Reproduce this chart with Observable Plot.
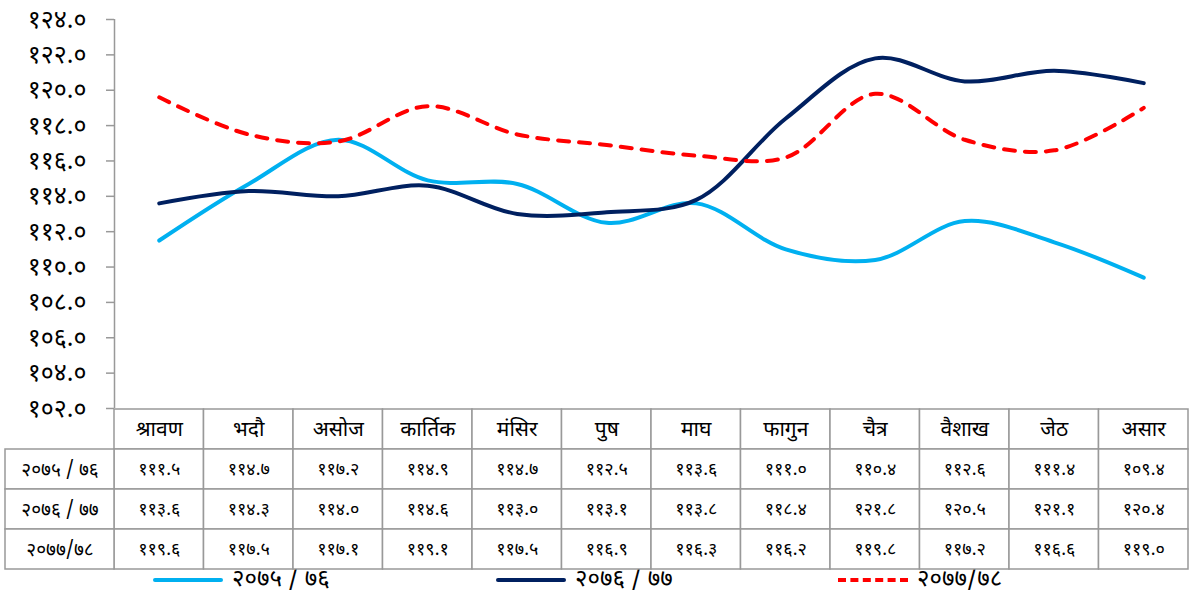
<!DOCTYPE html>
<html>
<head>
<meta charset="utf-8">
<script src="https://cdn.jsdelivr.net/npm/d3@7"></script>
<script src="https://cdn.jsdelivr.net/npm/@observablehq/plot@0.6"></script>
<style>
  html, body { margin: 0; padding: 0; background: #fff; }
  body { width: 1191px; height: 594px; position: relative; overflow: hidden; font-family: "Kalimati", "Mangal", "Noto Sans Devanagari", "Lohit Devanagari", "Noto Sans", sans-serif; }
  #chart, #table, #legend { position: absolute; left: 0; }
  #chart { top: 0; }
  #table { top: 400px; }
  #legend { top: 566px; width: 1191px; height: 28px; }
  .lg { position: absolute; top: 0; height: 28px; display: flex; align-items: center; font-size: 24px; color: #000; font-weight: normal; }
  .sw { display: inline-block; width: 70px; height: 0; margin-right: 9px; }
  svg.plot-svg { background: transparent !important; overflow: visible; }
  svg.plot-svg text { font-weight: normal; }
  #chart [aria-label="y-axis"] line, #chart [aria-label="y-axis tick"] path, #chart [aria-label="y-axis"] path { stroke: #999; stroke-width: 1.5px; }
</style>
</head>
<body>
<div id="legend"></div>
<div id="chart"></div>
<div id="table"></div>
<script>
// ---- data ----
const months = ["श्रावण", "भदौ", "असोज", "कार्तिक", "मंसिर", "पुष", "माघ", "फागुन", "चैत्र", "वैशाख", "जेठ", "असार"];
const seriesNames = ["२०७५ / ७६", "२०७६ / ७७", "२०७७/७८"];
const values2075 = [111.5, 114.7, 117.2, 114.9, 114.7, 112.5, 113.6, 111.0, 110.4, 112.6, 111.4, 109.4];
const values2076 = [113.6, 114.3, 114.0, 114.6, 113.0, 113.1, 113.8, 118.4, 121.8, 120.5, 121.1, 120.4];
const values2077 = [119.6, 117.5, 117.1, 119.1, 117.5, 116.9, 116.3, 116.2, 119.8, 117.2, 116.6, 119.0];
const yTicks = [102, 104, 106, 108, 110, 112, 114, 116, 118, 120, 122, 124];
const colors = ["#00B0F0", "#002060", "#FF0000"];

// ---- helpers ----
const devDigits = "०१२३४५६७८९";
const dev = s => String(s).replace(/[0-9]/g, d => devDigits[+d]);
const fmt1 = v => dev(v.toFixed(1));
const FONT = "Kalimati, Mangal, 'Noto Sans Devanagari', 'Lohit Devanagari', 'Noto Sans', sans-serif";

const allSeries = [values2075, values2076, values2077];
const rows = [];
allSeries.forEach((vals, s) => vals.forEach((v, i) => rows.push({series: seriesNames[s], i, month: months[i], value: v})));

const W = 1191;
const plotLeft = 114, plotRight = 1188;
const colW = (plotRight - plotLeft) / months.length;
const labelColLeft = 5;
const labelX1 = -(plotLeft - labelColLeft) / colW;

// ---- chart ----
const chart = Plot.plot({
  width: W, height: 420,
  marginLeft: plotLeft, marginRight: W - plotRight, marginTop: 19, marginBottom: 12,
  style: {background: "transparent", overflow: "visible", fontFamily: FONT},
  x: {domain: [0, months.length], axis: null},
  y: {domain: [102, 124], ticks: yTicks, tickFormat: fmt1, tickSize: 8, tickPadding: 20, label: null},
  color: {domain: seriesNames, range: colors},
  marks: [
    Plot.ruleX([0], {stroke: "#999", strokeWidth: 1.5}),
    Plot.line(rows.filter(d => d.series !== seriesNames[2]), {
      x: d => d.i + 0.5, y: "value", z: "series", stroke: "series",
      strokeWidth: 4, curve: "catmull-rom", strokeLinecap: "round"
    }),
    Plot.line(rows.filter(d => d.series === seriesNames[2]), {
      x: d => d.i + 0.5, y: "value", stroke: "series",
      strokeWidth: 4, curve: "catmull-rom", strokeDasharray: "11,10", strokeLinecap: "round"
    })
  ]
});
chart.classList.add("plot-svg");
chart.querySelectorAll('[aria-label^="y-axis"] text, [aria-label="y-axis"] text').forEach(t => { t.setAttribute("font-size", 25); t.style.fontSize = "25px"; t.setAttribute("fill", "#000"); });
document.getElementById("chart").appendChild(chart);

// ---- table ----
const rowKeys = ["head", ...seriesNames];
const cells = [];
months.forEach((m, i) => cells.push({row: "head", x1: i, x2: i + 1, label: m, size: 21}));
rows.forEach(d => cells.push({row: d.series, x1: d.i, x2: d.i + 1, label: fmt1(d.value), size: 18}));
seriesNames.forEach(s => cells.push({row: s, x1: labelX1, x2: 0, label: s, size: 19}));

const table = Plot.plot({
  width: W, height: 175,
  marginLeft: plotLeft, marginRight: W - plotRight, marginTop: 8, marginBottom: 6,
  style: {background: "transparent", overflow: "visible", fontFamily: FONT},
  x: {domain: [0, months.length], axis: null},
  y: {domain: rowKeys, axis: null, padding: 0},
  marks: [
    Plot.barX(cells, {x1: "x1", x2: "x2", y: "row", fill: "white", stroke: "#999", strokeWidth: 1.5, inset: 0}),
    ...[21, 18, 19].map(sz => Plot.text(cells.filter(d => d.size === sz), {x: d => (d.x1 + d.x2) / 2, y: "row", text: "label", fontSize: sz, fill: "#000"}))
  ]
});
table.classList.add("plot-svg");
document.getElementById("table").appendChild(table);

// ---- legend ----
const legendPos = [153, 496, 838];
const legend = document.getElementById("legend");
seriesNames.forEach((s, k) => {
  const item = document.createElement("div");
  item.className = "lg";
  item.style.left = legendPos[k] + "px";
  const sw = document.createElement("span");
  sw.className = "sw";
  sw.style.borderTop = k === 2 ? `4px dashed ${colors[k]}` : `4px solid ${colors[k]}`;
  if (k !== 2) sw.style.borderRadius = "2px";
  item.appendChild(sw);
  const tx = document.createElement("span");
  tx.textContent = s;
  item.appendChild(tx);
  legend.appendChild(item);
});
</script>
</body>
</html>
